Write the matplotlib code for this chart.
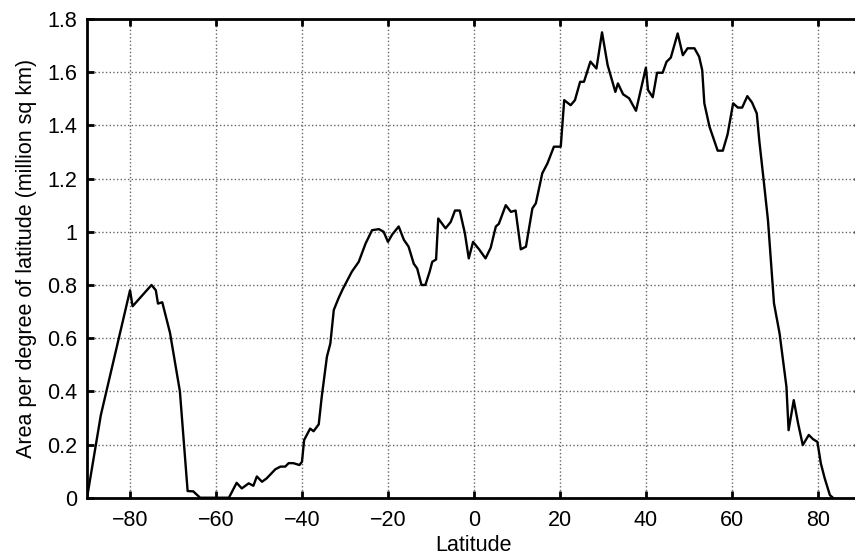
import matplotlib
matplotlib.use("Agg")
import matplotlib.pyplot as plt
from matplotlib.ticker import FuncFormatter

# land area per degree of latitude
lat = [-90, -86.8, -80, -79.4, -75, -74, -73.5, -72.5, -70.7, -68.4,
       -66.6, -65.3, -63.7, -57, -55.2, -54, -52.4, -51.3, -50.5, -49.3,
       -48.2, -46.2, -45, -43.9, -43.1, -42, -40.6, -40, -39.5, -38.1,
       -37.3, -36.1, -35.4, -34.2, -33.4, -32.6, -31.5, -30.5, -28.4, -26.8,
       -25.2, -23.7, -22.1, -21, -20, -19, -17.5, -16.3, -15.2, -14,
       -13.2, -12.2, -11.3, -10.3, -9.7, -8.8, -8.3, -6.6, -5.4, -4.4,
       -3.3, -2.1, -1.2, -0.2, 1.2, 2.7, 3.9, 5.1, 5.8, 7.4,
       8.6, 9.7, 10.9, 12.1, 13.6, 14.4, 15.9, 17.1, 18.6, 20.2,
       21, 22.5, 23.5, 24.7, 25.6, 27.1, 28.5, 29.8, 31.1, 32.9,
       33.5, 34.7, 36.1, 37.7, 40, 40.5, 41.6, 42.6, 43.9, 44.8,
       45.8, 47.4, 48.6, 49.7, 51.3, 52.4, 53.1, 53.6, 54.8, 56.7,
       57.9, 59, 60.3, 61.4, 62.4, 63.6, 64.7, 65.8, 66.4, 67.4,
       68.4, 69.2, 69.8, 71.1, 72.7, 73.2, 74.4, 75.4, 76.5, 77.9,
       78.9, 79.9, 80.7, 81.6, 82.8, 83.5]
area = [0, 0.31, 0.78, 0.72, 0.80, 0.78, 0.73, 0.735, 0.62, 0.40,
        0.025, 0.024, 0, 0, 0.056, 0.035, 0.054, 0.045, 0.08, 0.06,
        0.073, 0.107, 0.117, 0.117, 0.13, 0.13, 0.123, 0.135, 0.217, 0.26,
        0.25, 0.276, 0.38, 0.53, 0.58, 0.706, 0.75, 0.785, 0.85, 0.887,
        0.956, 1.006, 1.01, 1.0, 0.962, 0.99, 1.02, 0.97, 0.944, 0.88,
        0.862, 0.80, 0.80, 0.85, 0.887, 0.896, 1.05, 1.013, 1.037, 1.08,
        1.08, 0.994, 0.90, 0.962, 0.934, 0.90, 0.94, 1.02, 1.03, 1.10,
        1.075, 1.08, 0.934, 0.944, 1.088, 1.107, 1.22, 1.257, 1.32, 1.32,
        1.495, 1.476, 1.495, 1.564, 1.564, 1.64, 1.614, 1.75, 1.627, 1.526,
        1.558, 1.517, 1.502, 1.455, 1.617, 1.533, 1.506, 1.598, 1.598, 1.639,
        1.655, 1.746, 1.664, 1.69, 1.69, 1.658, 1.608, 1.483, 1.395, 1.305,
        1.305, 1.366, 1.483, 1.467, 1.467, 1.51, 1.486, 1.445, 1.34, 1.194,
        1.044, 0.868, 0.731, 0.618, 0.417, 0.254, 0.367, 0.28, 0.198, 0.236,
        0.22, 0.21, 0.129, 0.073, 0.01, 0]

xticks = [-80, -60, -40, -20, 0, 20, 40, 60, 80]
yticks = [0, 0.2, 0.4, 0.6, 0.8, 1.0, 1.2, 1.4, 1.6, 1.8]

plt.rcParams['font.family'] = ['Liberation Sans', 'DejaVu Sans']

fig = plt.figure(figsize=(8.55, 5.55), dpi=100)
ax = fig.add_axes([0.1018, 0.1032, 0.905, 0.8625])

ax.plot(lat, area, color='black', linewidth=1.7)

ax.set_xlim(-90, 90)
ax.set_ylim(0, 1.8)
ax.set_xticks(xticks)
ax.set_yticks(yticks)
ax.xaxis.set_major_formatter(FuncFormatter(lambda v, p: f"{v:g}".replace('-', '\u2212')))
ax.yaxis.set_major_formatter(FuncFormatter(lambda v, p: f"{v:g}"))

ax.grid(True, linestyle=':', color='0.4', linewidth=1.0)
ax.tick_params(direction='in', length=5, width=2, labelsize=15.5,
               top=True, right=True)
ax.tick_params(axis='x', pad=9)
ax.tick_params(axis='y', pad=7)
for s in ax.spines.values():
    s.set_linewidth(2)

ax.set_xlabel('Latitude', fontsize=15.5, labelpad=3)
ax.set_ylabel('Area per degree of latitude (million sq km)', fontsize=15.5, labelpad=7)

fig.savefig('out.png', dpi=100)
